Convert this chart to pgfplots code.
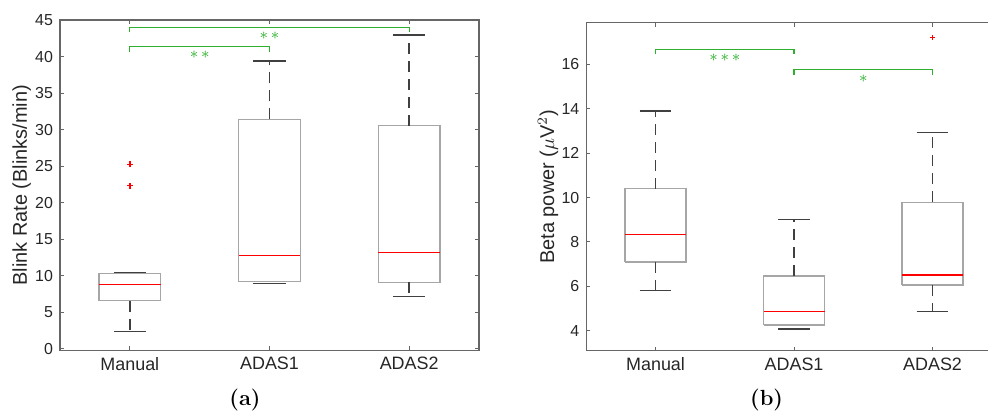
\documentclass[border=0pt]{standalone}
\usepackage{fontspec}
\setsansfont{Liberation Sans}
\usepackage{pgfplots}
\pgfplotsset{compat=1.18}
\definecolor{boxgray}{HTML}{A6A6A6}
\definecolor{whisk}{HTML}{404040}
\definecolor{axgray}{HTML}{666666}
\definecolor{txtgray}{HTML}{262626}
\definecolor{sigreen}{HTML}{2EB02E}

\tikzset{signode/.style={text=sigreen, font=\fontsize{8}{9}\selectfont, inner sep=0pt}}
\pgfplotsset{
  bp/.style={
    scale only axis,
    xmin=0.5, xmax=3.5,
    xtick={1,2,3}, xticklabels={Manual,ADAS1,ADAS2},
    tick align=inside,
    major tick length=2bp,
    axis line style={axgray, line width=0.6pt},
    tick style={axgray, line width=0.5pt},
    ticklabel style={txtgray},
    x tick label style={font=\sffamily\fontsize{9}{10}\selectfont},
    y tick label style={font=\sffamily\fontsize{8}{9}\selectfont},
    /pgf/number format/assume math mode=true,
    label style={font=\sffamily\fontsize{10}{12}\selectfont, txtgray},
    clip=false,
  },
  boxe/.style={boxgray, line width=0.7pt},
  medi/.style={red, line width=0.7pt},
  whis/.style={whisk, line width=0.7pt, dash pattern=on 5.5bp off 3.5bp},
  capl/.style={whisk, line width=0.6pt},
  outl/.style={only marks, mark=+, red, mark size=1.5bp, mark options={line width=0.7pt}},
  sig/.style={sigreen, line width=0.6pt},
}

\begin{document}
\begin{tikzpicture}
% ---------------- (a) blink rate ----------------
\begin{axis}[bp,
  at={(30bp,30.85bp)}, anchor=south west,
  width=209.5bp, height=165.15bp,
  ymin=-0.18, ymax=45,
  ytick={0,5,...,45},
  ylabel={Blink Rate (Blinks/min)},
  ylabel style={at={(axis description cs:-0.0914,0.5)}, anchor=center},
]
% Manual
\addplot[boxe] coordinates {(0.78,6.6) (1.22,6.6) (1.22,10.35) (0.78,10.35) (0.78,6.6)};
\addplot[medi] coordinates {(0.78,8.84) (1.22,8.84)};
\addplot[whis] coordinates {(1,6.6) (1,2.36)};
\addplot[capl] coordinates {(0.885,2.36) (1.115,2.36)};
\addplot[capl] coordinates {(0.885,10.43) (1.115,10.43)};
\addplot[outl] coordinates {(1,25.26) (1,22.33)};
% ADAS1
\addplot[boxe] coordinates {(1.78,9.2) (2.22,9.2) (2.22,31.42) (1.78,31.42) (1.78,9.2)};
\addplot[medi] coordinates {(1.78,12.81) (2.22,12.81)};
\addplot[whis] coordinates {(2,31.42) (2,39.39)};
\addplot[capl] coordinates {(1.885,39.39) (2.115,39.39)};
\addplot[capl] coordinates {(1.885,9.0) (2.115,9.0)};
% ADAS2
\addplot[boxe] coordinates {(2.78,9.12) (3.22,9.12) (3.22,30.54) (2.78,30.54) (2.78,9.12)};
\addplot[medi] coordinates {(2.78,13.22) (3.22,13.22)};
\addplot[whis] coordinates {(3,30.54) (3,42.95)};
\addplot[whis] coordinates {(3,9.12) (3,7.15)};
\addplot[capl] coordinates {(2.885,42.95) (3.115,42.95)};
\addplot[capl] coordinates {(2.885,7.15) (3.115,7.15)};
% significance brackets
\addplot[sig] coordinates {(1,43.3) (1,44.0) (3,44.0) (3,43.3)};
\addplot[sig] coordinates {(1,40.66) (1,41.4) (2,41.4) (2,40.66)};
\node[signode] at (axis cs:2,42.85) {${\ast}\,{\ast}$};
\node[signode] at (axis cs:1.5,40.3) {${\ast}\,{\ast}$};
\end{axis}

% ---------------- (b) beta power (right edge cut off, as in the source) ----------------
\begin{axis}[bp,
  at={(293.15bp,30.65bp)}, anchor=south west,
  width=207.75bp, height=164bp,
  axis y line*=left,
  ymin=3.1, ymax=17.88,
  ytick={4,6,...,16},
  ylabel={Beta power (\(\mu\)V\(^2\))},
  ylabel style={at={(axis description cs:-0.0922,0.5)}, anchor=center},
]
% Manual
\addplot[boxe] coordinates {(0.78,7.1) (1.22,7.1) (1.22,10.4) (0.78,10.4) (0.78,7.1)};
\addplot[medi] coordinates {(0.78,8.34) (1.22,8.34)};
\addplot[whis] coordinates {(1,10.4) (1,13.9)};
\addplot[whis] coordinates {(1,7.1) (1,5.83)};
\addplot[capl] coordinates {(0.885,13.9) (1.115,13.9)};
\addplot[capl] coordinates {(0.885,5.83) (1.115,5.83)};
% ADAS1
\addplot[boxe] coordinates {(1.78,4.26) (2.22,4.26) (2.22,6.46) (1.78,6.46) (1.78,4.26)};
\addplot[medi] coordinates {(1.78,4.87) (2.22,4.87)};
\addplot[whis] coordinates {(2,6.46) (2,9.03)};
\addplot[capl] coordinates {(1.885,9.03) (2.115,9.03)};
\addplot[capl] coordinates {(1.885,4.08) (2.115,4.08)};
% ADAS2
\addplot[boxe] coordinates {(2.78,6.06) (3.22,6.06) (3.22,9.79) (2.78,9.79) (2.78,6.06)};
\addplot[medi] coordinates {(2.78,6.51) (3.22,6.51)};
\addplot[whis] coordinates {(3,9.79) (3,12.94)};
\addplot[whis] coordinates {(3,6.06) (3,4.86)};
\addplot[capl] coordinates {(2.885,12.94) (3.115,12.94)};
\addplot[capl] coordinates {(2.885,4.86) (3.115,4.86)};
\addplot[outl, mark size=1.3bp] coordinates {(3,17.2)};
% significance brackets
\addplot[sig] coordinates {(1,16.45) (1,16.66) (2,16.66) (2,16.45)};
\addplot[sig] coordinates {(2,15.52) (2,15.76) (3,15.76) (3,15.52)};
\node[signode] at (axis cs:1.5,16.29) {${\ast}\,{\ast}\,{\ast}$};
\node[signode] at (axis cs:2.5,15.37) {${\ast}$};
\end{axis}

\node[font=\bfseries\fontsize{11}{13}\selectfont] at (122.5bp,6bp) {(a)};
\node[font=\bfseries\fontsize{11}{13}\selectfont] at (383.3bp,6bp) {(b)};

% strip past the page edge of the source figure
\fill[white] (494bp,0bp) rectangle (510bp,206bp);
\pgfresetboundingbox
\useasboundingbox (0,0) rectangle (497bp,206bp);
\end{tikzpicture}
\end{document}
